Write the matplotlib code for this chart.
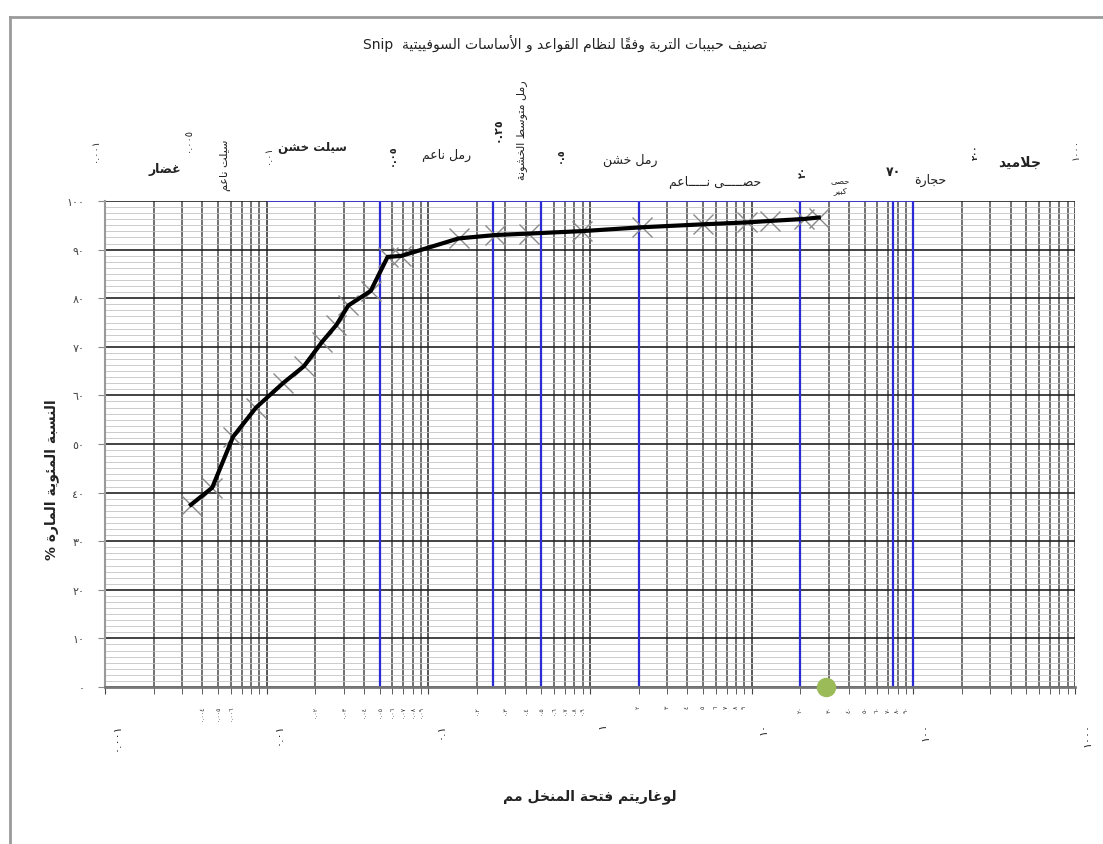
import matplotlib
matplotlib.use("Agg")
import matplotlib.pyplot as plt
from matplotlib.ticker import LogLocator, MultipleLocator, NullFormatter
from matplotlib import transforms
from matplotlib.lines import Line2D

plt.rcParams["font.family"] = ["DejaVu Sans"]

# ---- data -------------------------------------------------------------
sieve_mm = [0.0034, 0.0046, 0.0062, 0.0086, 0.0126, 0.017, 0.022, 0.027, 0.032,
            0.044, 0.056, 0.068, 0.154, 0.26, 0.42, 0.89, 2.1, 5.0, 9.4, 13, 21, 26]
passing_pct = [37.5, 41, 51.5, 57.5, 62.5, 66, 71, 74.5, 78.5,
               81.5, 88.5, 88.7, 92.3, 93, 93.3, 93.8, 94.6, 95.2, 95.6, 95.9, 96.3, 96.6]
boundary_mm = [0.05, 0.25, 0.5, 2, 20, 75, 100]
extra_point = (29, 0)

y_ticks = [0, 10, 20, 30, 40, 50, 60, 70, 80, 90, 100]
y_labels = ["٠", "١٠", "٢٠", "٣٠", "٤٠", "٥٠", "٦٠", "٧٠", "٨٠", "٩٠", "١٠٠"]
x_decades = [0.001, 0.01, 0.1, 1, 10, 100, 1000]
x_decade_labels = ["٠.٠٠١", "٠.٠١", "٠.١", "١", "١٠", "١٠٠", "١٠٠٠"]
minor_vals = [0.004, 0.005, 0.006] + [d * s for d in (0.01, 0.1, 1, 10) for s in range(2, 10)]

title = "تصنيف حبيبات التربة وفقاً لنظام القواعد و الأساسات السوفييتية"
x_title = "لوغاريتم فتحة المنخل مم"
y_title = "النسبة المئوية المارة"

# ---- minimal arabic shaping (no bidi libs available) --------------------
_BASES = {
    "\u0621": (0xFE80, 1), "\u0622": (0xFE81, 2), "\u0623": (0xFE83, 2), "\u0624": (0xFE85, 2),
    "\u0625": (0xFE87, 2), "\u0626": (0xFE89, 4), "\u0627": (0xFE8D, 2), "\u0628": (0xFE8F, 4),
    "\u0629": (0xFE93, 2), "\u062A": (0xFE95, 4), "\u062B": (0xFE99, 4), "\u062C": (0xFE9D, 4),
    "\u062D": (0xFEA1, 4), "\u062E": (0xFEA5, 4), "\u062F": (0xFEA9, 2), "\u0630": (0xFEAB, 2),
    "\u0631": (0xFEAD, 2), "\u0632": (0xFEAF, 2), "\u0633": (0xFEB1, 4), "\u0634": (0xFEB5, 4),
    "\u0635": (0xFEB9, 4), "\u0636": (0xFEBD, 4), "\u0637": (0xFEC1, 4), "\u0638": (0xFEC5, 4),
    "\u0639": (0xFEC9, 4), "\u063A": (0xFECD, 4), "\u0641": (0xFED1, 4), "\u0642": (0xFED5, 4),
    "\u0643": (0xFED9, 4), "\u0644": (0xFEDD, 4), "\u0645": (0xFEE1, 4), "\u0646": (0xFEE5, 4),
    "\u0647": (0xFEE9, 4), "\u0648": (0xFEED, 2), "\u0649": (0xFEEF, 2), "\u064A": (0xFEF1, 4),
}
AR_FORMS = {c: tuple(chr(b + k) for k in range(n)) for c, (b, n) in _BASES.items()}
LAM_ALEF = {"\u0627": (0xFEFB, 0xFEFC), "\u0623": (0xFEF7, 0xFEF8),
            "\u0625": (0xFEF9, 0xFEFA), "\u0622": (0xFEF5, 0xFEF6)}
TATWEEL = "\u0640"
MARKS = set(chr(c) for c in range(0x064B, 0x0653))


def ar(text):
    units = []
    i = 0
    while i < len(text):
        c = text[i]
        if c in MARKS and units:
            units[-1][2] += c
        elif c == "\u0644" and i + 1 < len(text) and text[i + 1] in LAM_ALEF:
            units.append([text[i + 1], "lamalef", ""])
            i += 1
        else:
            units.append([c, "char", ""])
        i += 1

    def joining(u):
        return u[1] == "lamalef" or u[0] == TATWEEL or len(AR_FORMS.get(u[0], ())) > 1

    def dual(u):
        return u[1] == "char" and (u[0] == TATWEEL or len(AR_FORMS.get(u[0], ())) == 4)

    glyphs = []
    for k, u in enumerate(units):
        prev_ok = k > 0 and dual(units[k - 1]) and joining(u)
        next_ok = k + 1 < len(units) and dual(u) and joining(units[k + 1])
        if u[1] == "lamalef":
            iso, fin = LAM_ALEF[u[0]]
            g = chr(fin if prev_ok else iso)
        elif u[0] not in AR_FORMS:
            g = u[0]
        else:
            f = AR_FORMS[u[0]]
            if prev_ok and next_ok and len(f) == 4:
                g = f[3]
            elif prev_ok and len(f) > 1:
                g = f[1]
            elif next_ok and len(f) == 4:
                g = f[2]
            else:
                g = f[0]
        glyphs.append(g + u[2])
    return "".join(reversed(glyphs))


# ---- figure -----------------------------------------------------------
W, H = 1103, 845
fig = plt.figure(figsize=(W / 100, H / 100), dpi=100)
ax = fig.add_axes([105 / W, 1 - 688 / H, (1075 - 105) / W, (688 - 202) / H])


def px(x, y):
    return x / W, 1 - y / H


ax.set_xscale("log")
ax.set_xlim(0.001, 1000)
ax.set_ylim(0, 100)

ax.xaxis.set_major_locator(LogLocator(base=10, numticks=10))
ax.xaxis.set_minor_locator(LogLocator(base=10, subs=range(2, 10), numticks=20))
ax.xaxis.set_major_formatter(NullFormatter())
ax.xaxis.set_minor_formatter(NullFormatter())
ax.set_yticks(y_ticks)
ax.set_yticklabels(y_labels, fontsize=8, color="#444")
ax.yaxis.set_minor_locator(MultipleLocator(1.25))

ax.grid(which="major", axis="x", color="#3a3a3a", lw=1.2)
ax.grid(which="minor", axis="x", color="#4a4a4a", lw=1.1)
ax.grid(which="major", axis="y", color="#222", lw=1.2)
ax.grid(which="minor", axis="y", color="#c4c4c4", lw=0.6)
ax.set_axisbelow(True)

ax.tick_params(axis="y", which="major", direction="out", length=5, pad=10, color="#888")
ax.tick_params(axis="y", which="minor", length=0)
ax.tick_params(axis="x", which="both", direction="out", length=5, color="#444")
for side in ("top", "right"):
    ax.spines[side].set_visible(False)
ax.spines["left"].set_color("#999")
ax.spines["left"].set_linewidth(1.5)
ax.spines["bottom"].set_color("#777")
ax.spines["bottom"].set_linewidth(2)

# classification boundaries
ax.vlines(boundary_mm, 0, 100, color="#2b2bd6", lw=1.6, zorder=2)
ax.hlines(100, 0.01, 100, color="#3b3bd6", lw=1.2, zorder=2)

# grading curve
ax.plot(sieve_mm, passing_pct, ls="none", marker="x", ms=14, mew=1.0, color="#8a8a8a", zorder=3)
ax.plot(sieve_mm, passing_pct, color="black", lw=3, zorder=4)
ax.plot(*extra_point, marker="o", ms=13, color="#9bbb59", ls="none", clip_on=False, zorder=5)

# x tick labels (rotated, below axis)
offset = transforms.offset_copy(ax.get_xaxis_transform(), fig=fig, x=12, y=0, units="dots")
for val, lab in zip(x_decades, x_decade_labels):
    ax.text(val, -0.072, lab, transform=offset, rotation=90, ha="center", va="top",
            fontsize=8, color="#222")
for val in minor_vals:
    lab = f"{val:g}".translate(str.maketrans("0123456789", "٠١٢٣٤٥٦٧٨٩"))
    ax.text(val, -0.037, lab, transform=ax.get_xaxis_transform(), rotation=90,
            ha="center", va="top", fontsize=4.5, color="#333")

# titles
fig.text(*px(565, 43), "Snip  " + ar(title), ha="center", va="center", fontsize=10, color="#222")
fig.text(*px(590, 797), ar(x_title), ha="center", va="center", fontsize=10,
         fontweight="bold", color="#222")
fig.text(*px(52, 480), "% " + ar(y_title), rotation=90, ha="center", va="center",
         fontsize=10, fontweight="bold", color="#222")

# soil class annotations above the plot
top_labels = [
    ("٠.٠٠١", 95, 150, 90, 7, "normal", False),
    ("غضار", 165, 170, 0, 9, "bold", True),
    ("٠.٠٠٥", 188, 140, 90, 7, "normal", False),
    ("سيلت ناعم", 225, 165, 90, 8, "normal", True),
    ("٠.٠١", 268, 155, 90, 7, "normal", False),
    ("سيلت خشن", 312, 147, 0, 8.5, "bold", True),
    ("٠.٠٥", 392, 155, 90, 7, "bold", False),
    ("رمل ناعم", 447, 155, 0, 9, "normal", True),
    ("٠.٢٥", 498, 130, 90, 8, "bold", False),
    ("رمل متوسط الخشونة", 522, 130, 90, 8, "normal", True),
    ("٠.٥", 560, 155, 90, 7, "bold", False),
    ("رمل خشن", 630, 160, 0, 9, "normal", True),
    ("حصـــــى نـــــاعم", 715, 182, 0, 9, "normal", True),
    ("٢٠", 803, 172, 90, 7, "bold", False),
    ("حصى\nكبير", 840, 186, 0, 6, "normal", True),
    ("٧٠", 893, 172, 0, 9, "bold", False),
    ("حجارة", 930, 180, 0, 9, "normal", True),
    ("٢٠٠", 975, 152, 90, 6, "bold", False),
    ("جلاميد", 1020, 163, 0, 10, "bold", True),
    ("١٠٠٠", 1076, 150, 90, 7, "normal", False),
]
for text, x, y, rot, size, weight, is_ar in top_labels:
    if is_ar:
        text = "\n".join(ar(part) for part in text.split("\n"))
    fig.text(*px(x, y), text, rotation=rot, ha="center", va="center",
             fontsize=size, fontweight=weight, color="#222", linespacing=1.0)

# frame of the screenshot
fig.add_artist(Line2D([10 / W, 1], [1 - 18 / H, 1 - 18 / H], transform=fig.transFigure,
                      color="#9a9a9a", lw=2))
fig.add_artist(Line2D([10 / W, 10 / W], [0, 1 - 18 / H], transform=fig.transFigure,
                      color="#9a9a9a", lw=2))

fig.savefig("out.png", dpi=100)
